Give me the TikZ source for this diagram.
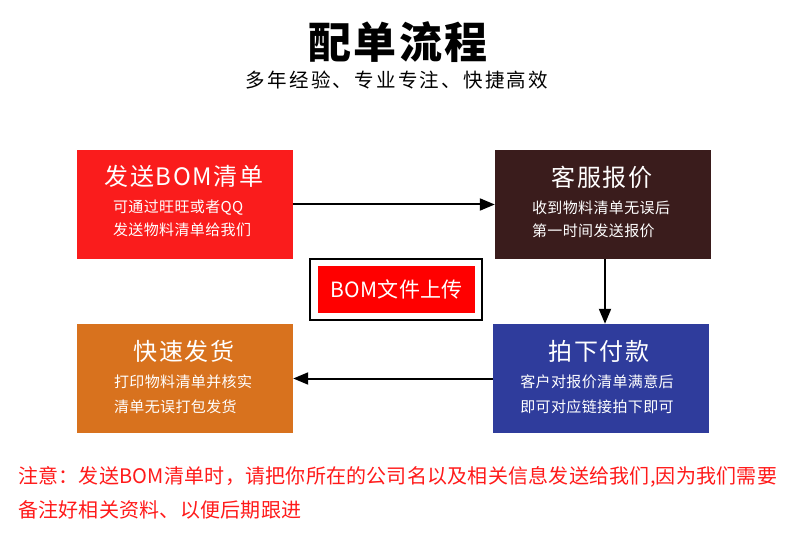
\documentclass[tikz,border=0pt]{standalone}
\usepackage{fontspec}
\setmainfont{Noto Sans CJK SC}
\usetikzlibrary{arrows.meta}
\definecolor{boxred}{HTML}{FA1C1C}
\definecolor{boxbrown}{HTML}{3A1C1C}
\definecolor{boxorange}{HTML}{D8721E}
\definecolor{boxblue}{HTML}{2F3C9C}
\definecolor{notered}{HTML}{FF1A1A}
\tikzset{
  card/.style={minimum width=216pt, minimum height=109pt, inner sep=0pt, draw=none},
  ctitle/.style={text=white, inner sep=0pt, font=\fontsize{24}{30}\selectfont\addfontfeatures{LetterSpace=6.5}},
  cbody/.style={text=white, align=left, inner sep=0pt, font=\fontsize{15}{23}\selectfont\addfontfeatures{LetterSpace=2.5}},
  cbodylow/.style={text=white, align=left, inner sep=0pt, font=\fontsize{15}{25}\selectfont\addfontfeatures{LetterSpace=2.5}},
  flow/.style={line width=2pt, -{Triangle[length=15pt,width=12pt]}},
  notetext/.style={text=notered, anchor=west, inner sep=0pt, font=\fontsize{20}{24}\selectfont\addfontfeatures{LetterSpace=1.2}}
}
\begin{document}
\begin{tikzpicture}[x=1pt,y=-1pt]
\useasboundingbox (0,0) rectangle (790,545);
% title
\node[inner sep=0pt, font=\fontsize{43}{50}\selectfont\bfseries\addfontfeatures{LetterSpace=5}] (title) at (398,42) {配单流程};
\node[inner sep=0pt, font=\fontsize{19.5}{24}\selectfont\addfontfeatures{LetterSpace=11.5}] (subtitle) at (397,80) {多年经验、专业专注、快捷高效};
% cards
\node[card, fill=boxred] (send) at (185,204.5) {};
\node[ctitle] (sendT) at (184,176) {发送BOM清单};
\node[cbody] (sendB) at (182,218.5) {可通过旺旺或者QQ\\发送物料清单给我们};

\node[card, fill=boxbrown] (quote) at (603,204.5) {};
\node[ctitle] (quoteT) at (602,177) {客服报价};
\node[cbody] (quoteB) at (601,219) {收到物料清单无误后\\第一时间发送报价};

\node[card, fill=boxblue] (pay) at (601,378.5) {};
\node[ctitle] (payT) at (599,351) {拍下付款};
\node[cbodylow] (payB) at (597,394) {客户对报价清单满意后\\即可对应链接拍下即可};

\node[card, fill=boxorange] (ship) at (185,378.5) {};
\node[ctitle] (shipT) at (184,351) {快速发货};
\node[cbodylow] (shipB) at (183,394) {打印物料清单并核实\\清单无误打包发货};

% BOM upload box
\node[draw=black, line width=2.5pt, minimum width=172pt, minimum height=61pt, inner sep=0pt] (frame) at (396,289.5) {};
\node[fill=red, text=white, minimum width=157pt, minimum height=47pt, inner sep=0pt, font=\fontsize{21}{25}\selectfont\addfontfeatures{LetterSpace=2}] (upload) at (396.5,289.5) {BOM文件上传};

% connectors
\draw[flow] (send.east) -- (quote.west);
\draw[flow] ([xshift=2pt]quote.south) -- ([xshift=2pt]quote.south |- pay.north);
\draw[flow] (pay.west) -- (ship.east);

% note
\node[notetext] (note1) at (18,477) {注意：发送BOM清单时，请把你所在的公司名以及相关信息发送给我们,因为我们需要};
\node[notetext] (note2) at (18,510) {备注好相关资料、以便后期跟进};
\end{tikzpicture}
\end{document}
